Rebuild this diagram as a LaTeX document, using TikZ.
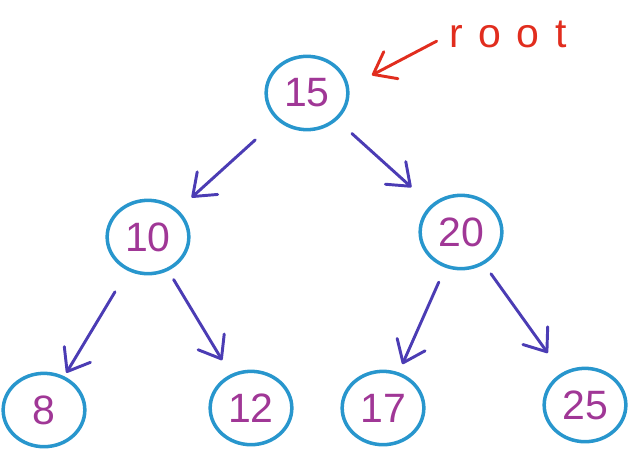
\documentclass[tikz,border=0pt]{standalone}
\usepackage{fontspec}
\setmainfont{Liberation Sans}
\usetikzlibrary{arrows.meta, positioning, shapes.geometric}

\definecolor{ringblue}{RGB}{40,150,205}
\definecolor{keypurple}{RGB}{160,55,150}
\definecolor{edgeblue}{RGB}{75,60,180}
\definecolor{rootred}{RGB}{225,45,30}

\begin{document}
\begin{tikzpicture}[
    x = 0.03cm,
    y = -0.03cm,
    on grid,
    >={Straight Barb[length=17pt, width=26pt, round]},
    ]

    \tikzstyle{bstnode}=[
    ellipse,
    draw = ringblue,
    line width = 3pt,
    minimum width = 2.45cm,
    minimum height = 2.2cm,
    inner sep = 0pt,
    text = keypurple,
    font = \fontsize{35}{40}\selectfont,
    ]
    \tikzstyle{rootlabel}=[
    inner sep = 0pt,
    text = rootred,
    font = \fontsize{35}{40}\selectfont\addfontfeature{LetterSpace=38},
    ]
    \tikzstyle{edgeline}=[->, color = edgeblue, line width = 2.5pt, line cap = round]
    \tikzstyle{rootline}=[->, color = rootred, line width = 2.5pt, line cap = round]

    \useasboundingbox (0,0) rectangle (629,457);

    \node[bstnode] (n15) at (307,93) {15};
    \node[bstnode] (n10) [below left=4.32cm and 4.77cm of n15] {10};
    \node[bstnode] (n20) [below right=4.17cm and 4.62cm of n15] {20};
    \node[bstnode] (n8) [below left=5.19cm and 3.12cm of n10] {8};
    \node[bstnode] (n12) [below right=5.13cm and 3.09cm of n10] {12};
    \node[bstnode] (n17) [below left=5.28cm and 2.34cm of n20] {17};
    \node[bstnode] (n25) [below right=5.19cm and 3.72cm of n20] {25};
    \node[rootlabel] (root) [above right=1.75cm and 6.03cm of n15] {root};

    \path[edgeline] (n15) edge[shorten <=25pt, shorten >=15.6pt] (n10);
    \path[edgeline] (n15) edge[shorten <=17pt, shorten >=22.4pt] (n20);
    \path[edgeline] (n10) edge[shorten <=21pt, shorten >=3.4pt] (n8);
    \path[edgeline] (n10) edge[shorten <=8.8pt, shorten >=14pt] (n12);
    \path[edgeline] (n20) edge[shorten <=13.5pt, shorten >=7.6pt] (n17);
    \path[edgeline] (n20) edge[shorten <=10pt, shorten >=20.7pt] (n25);
    \path[rootline] (root.west) edge[shorten <=12pt, shorten >=22pt] (n15.8);
  \end{tikzpicture}
\end{document}
